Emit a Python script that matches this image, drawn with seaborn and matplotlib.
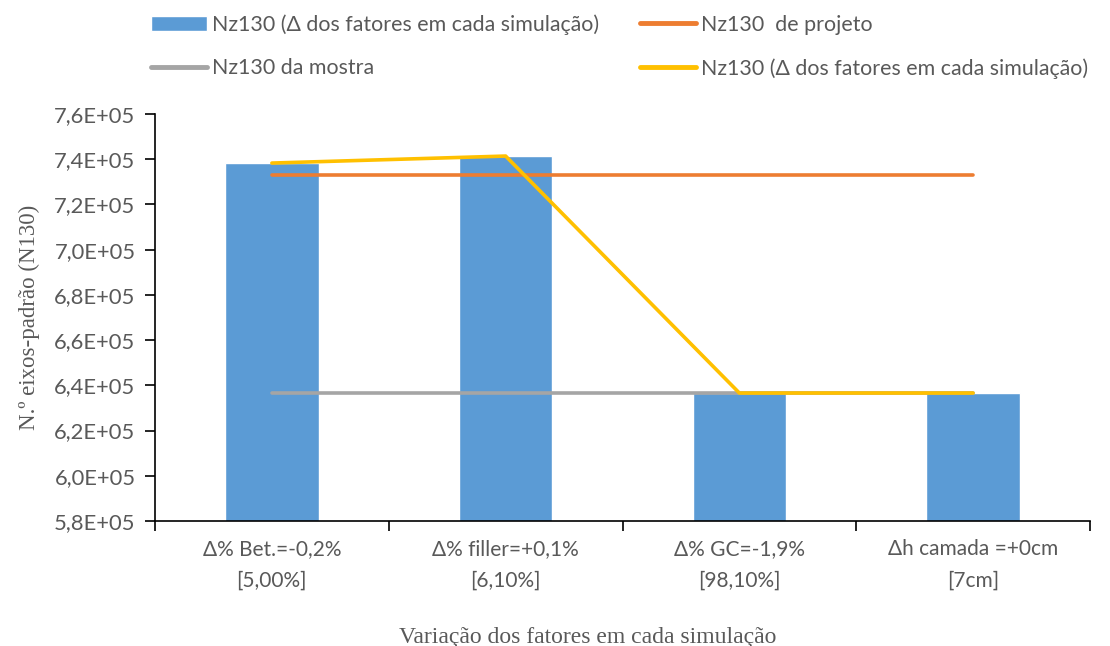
import numpy as np
import pandas as pd
import matplotlib
matplotlib.use("Agg")
import matplotlib.pyplot as plt
from matplotlib.lines import Line2D
from matplotlib.patches import Patch
from matplotlib.ticker import FuncFormatter, FixedLocator
import seaborn as sns

categories = ["Δ% Bet.=-0,2%\n[5,00%]", "Δ% filler=+0,1%\n[6,10%]",
              "Δ% GC=-1,9%\n[98,10%]", "Δh camada =+0cm\n[7cm]"]
nz_simulacao = [7.383e5, 7.414e5, 6.366e5, 6.366e5]
nz_projeto = [7.33e5, 7.33e5, 7.33e5, 7.33e5]
nz_mostra = [6.366e5, 6.366e5, 6.366e5, 6.366e5]
nz_linha = [7.383e5, 7.414e5, 6.366e5, 6.366e5]
legend_labels = ["Nz130 (Δ dos fatores em cada simulação)", "Nz130  de projeto",
                 "Nz130 da mostra", "Nz130 (Δ dos fatores em cada simulação)"]

c_bar, c_orange, c_gray, c_yellow = "#5B9BD5", "#ED7D31", "#A5A5A5", "#FFC000"

sns.set_style("white")
sans = ["Lato", "DejaVu Sans"]
serif = ["Liberation Serif", "DejaVu Serif"]
plt.rcParams["font.family"] = sans

fig = plt.figure(figsize=(11.1, 6.46), dpi=100)
ax = fig.add_axes([155 / 1110, 1 - 521 / 646, (1090 - 155) / 1110, (521 - 114) / 646])

df = pd.DataFrame({"cat": categories, "val": nz_simulacao})
sns.barplot(data=df, x="cat", y="val", color=c_bar, width=0.4, ax=ax,
            saturation=1, zorder=1)

pos = np.arange(len(categories))
sns.lineplot(x=pos, y=nz_projeto, color=c_orange, lw=2.6, ax=ax, zorder=3)
sns.lineplot(x=pos, y=nz_mostra, color=c_gray, lw=2.6, ax=ax, zorder=3)
sns.lineplot(x=pos, y=nz_linha, color=c_yellow, lw=2.6, ax=ax, zorder=4)

ax.set_xlim(-0.5, len(categories) - 0.5)
ax.set_ylim(5.8e5, 7.6e5)
ax.set_yticks(np.arange(5.8e5, 7.61e5, 0.2e5))
ax.yaxis.set_major_formatter(FuncFormatter(
    lambda v, p: ("%.1E" % v).replace(".", ",")))
ax.set_xticks(pos)
ax.set_xticklabels(categories, linespacing=1.75)
ax.xaxis.set_minor_locator(FixedLocator(np.arange(-0.5, len(categories), 1.0)))
ax.tick_params(axis="x", which="major", length=0, pad=13, labelsize=15,
               labelcolor="#595959")
ax.tick_params(axis="x", which="minor", length=7, width=1.2, color="black",
               direction="out", bottom=True)
ax.tick_params(axis="y", length=7, width=1.2, color="black", direction="out",
               left=True, labelsize=15.8, labelcolor="#595959", pad=7)

for s in ["top", "right"]:
    ax.spines[s].set_visible(False)
for s in ["left", "bottom"]:
    ax.spines[s].set_color("black")
    ax.spines[s].set_linewidth(1.2)

# axis titles; the x title sits a little left of the axes centre
ax.set_xlabel("Variação dos fatores em cada simulação", family=serif,
              fontsize=17, color="#595959", labelpad=26)
ax.xaxis.label.set_position((0.463, 0))
ax.set_ylabel("N.º eixos-padrão (N130)", family=serif, fontsize=16.5,
              color="#595959", labelpad=10)

handles = [Patch(facecolor=c_bar),
           Line2D([], [], color=c_gray, lw=3.5),
           Line2D([], [], color=c_orange, lw=3.5),
           Line2D([], [], color=c_yellow, lw=3.5)]
labels = [legend_labels[0], legend_labels[2], legend_labels[1], legend_labels[3]]
fig.legend(handles, labels, ncol=2, loc="upper left",
           bbox_to_anchor=(132 / 1110, 1 + 5 / 646), frameon=False,
           fontsize=15.4, labelcolor="#595959", handlelength=2.6,
           handletextpad=0.25, columnspacing=1.9, labelspacing=1.1)

fig.savefig("out.png", dpi=100)
